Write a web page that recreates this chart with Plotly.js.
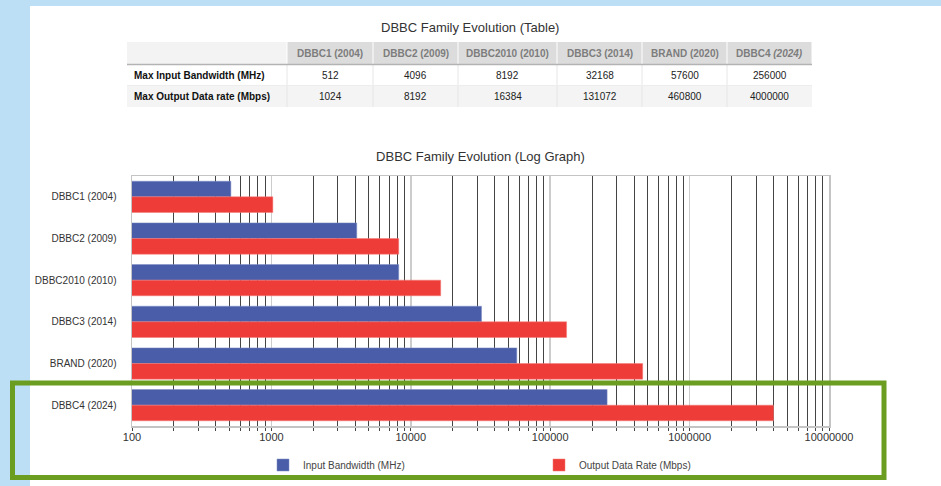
<!DOCTYPE html>
<html>
<head>
<meta charset="utf-8">
<script src="https://cdn.plot.ly/plotly-3.0.1.min.js"></script>
<style>html,body{margin:0;padding:0;background:#bfe0f5;}#chart{width:941px;height:486px;}</style>
</head>
<body>
<div id="chart"></div>
<script>
// ---- data ----
const categories = ['DBBC1 (2004)', 'DBBC2 (2009)', 'DBBC2010 (2010)', 'DBBC3 (2014)', 'BRAND (2020)', 'DBBC4 (2024)'];
const headerLabels = ['DBBC1 (2004)', 'DBBC2 (2009)', 'DBBC2010 (2010)', 'DBBC3 (2014)', 'BRAND (2020)', 'DBBC4 <i>(2024)</i>'];
const rowLabels = ['Max Input Bandwidth (MHz)', 'Max Output Data rate (Mbps)'];
const inputBandwidth = [512, 4096, 8192, 32168, 57600, 256000];
const outputRate = [1024, 8192, 16384, 131072, 460800, 4000000];
const seriesNames = ['Input Bandwidth (MHz)', 'Output Data Rate (Mbps)'];
const xTickVals = [100, 1000, 10000, 100000, 1000000, 10000000];
const xTickText = ['100', '1000', '10000', '100000', '1000000', '10000000'];
const tableTitle = 'DBBC Family Evolution (Table)';
const chartTitle = 'DBBC Family Evolution (Log Graph)';

// ---- helpers / styling ----
const W = 941, H = 486;
const px = v => v / W;
const py = v => 1 - v / H;
const FONT = 'Liberation Sans, Arial, sans-serif';
const BLUE = '#4a5da8';
const RED = '#ee3c39';

// table geometry (styling only)
const colEdges = [127, 287, 373, 458, 557, 642, 727, 812];
const rowEdges = [42, 64.5, 85.5, 107];   // header, row1, row2
const tableRows = [inputBandwidth, outputRate];

const shapes = [
  {type: 'rect', xref: 'paper', yref: 'paper', x0: px(30), x1: 1, y0: 0, y1: py(6),
   fillcolor: '#ffffff', line: {width: 0}, layer: 'below'}
];
const annotations = [{
  text: tableTitle, xref: 'paper', yref: 'paper',
  x: px(470), y: py(27), xanchor: 'center', yanchor: 'middle', showarrow: false,
  font: {family: FONT, size: 13, color: '#333333'}
}];

// header cells
for (let c = 0; c < colEdges.length - 1; c++) {
  shapes.push({type: 'rect', xref: 'paper', yref: 'paper',
    x0: px(colEdges[c] + (c ? 0.5 : 0)), x1: px(colEdges[c + 1] - 0.5),
    y0: py(rowEdges[1]), y1: py(rowEdges[0]),
    fillcolor: c === 0 ? '#f3f3f3' : '#dcdcdc', line: {width: 0}, layer: 'below'});
}
// body rows
for (let r = 0; r < 2; r++) {
  shapes.push({type: 'rect', xref: 'paper', yref: 'paper',
    x0: px(colEdges[0]), x1: px(colEdges[colEdges.length - 1]),
    y0: py(rowEdges[r + 2]), y1: py(rowEdges[r + 1]),
    fillcolor: r === 0 ? '#ffffff' : '#f4f4f4', line: {width: 0}, layer: 'below'});
}
// faint cell separators in the body
for (let c = 1; c < colEdges.length - 1; c++) {
  shapes.push({type: 'line', xref: 'paper', yref: 'paper',
    x0: px(colEdges[c]), x1: px(colEdges[c]), y0: py(rowEdges[3]), y1: py(rowEdges[1]),
    line: {color: '#e6e6e6', width: 1}, layer: 'below'});
}
shapes.push({type: 'line', xref: 'paper', yref: 'paper',
  x0: px(colEdges[0]), x1: px(colEdges[colEdges.length - 1]), y0: py(rowEdges[2]), y1: py(rowEdges[2]),
  line: {color: '#ededed', width: 1}, layer: 'below'});
// header bottom rule
shapes.push({type: 'line', xref: 'paper', yref: 'paper',
  x0: px(colEdges[0]), x1: px(colEdges[colEdges.length - 1]), y0: py(rowEdges[1]), y1: py(rowEdges[1]),
  line: {color: '#b3b3b3', width: 1.5}, layer: 'below'});

// header text
headerLabels.forEach((h, i) => {
  annotations.push({text: '<b>' + h + '</b>', xref: 'paper', yref: 'paper',
    x: px((colEdges[i + 1] + colEdges[i + 2]) / 2), y: py((rowEdges[0] + rowEdges[1]) / 2),
    xanchor: 'center', yanchor: 'middle', showarrow: false,
    font: {family: FONT, size: 10, color: '#7d7d7d'}});
});
// row labels + values
rowLabels.forEach((lab, r) => {
  const yc = py((rowEdges[r + 1] + rowEdges[r + 2]) / 2);
  annotations.push({text: '<b>' + lab + '</b>', xref: 'paper', yref: 'paper',
    x: px(colEdges[0] + 5), y: yc, xanchor: 'left', yanchor: 'middle', showarrow: false,
    font: {family: FONT, size: 10, color: '#111111'}});
  tableRows[r].forEach((v, i) => {
    annotations.push({text: String(v), xref: 'paper', yref: 'paper',
      x: px((colEdges[i + 1] + colEdges[i + 2]) / 2), y: yc,
      xanchor: 'center', yanchor: 'middle', showarrow: false,
      font: {family: FONT, size: 10, color: '#222222'}});
  });
});

// highlight box
shapes.push({type: 'rect', xref: 'paper', yref: 'paper', x0: px(12.5), x1: px(884), y0: py(477.5), y1: py(383),
  fillcolor: 'rgba(0,0,0,0)', line: {color: '#6b9e20', width: 5}, layer: 'above'});

const barIn = {
  type: 'bar', orientation: 'h', name: seriesNames[0],
  y: categories, x: inputBandwidth,
  marker: {color: BLUE, line: {color: '#7f8ec6', width: 0.5}},
  legend: 'legend', showlegend: true, hoverinfo: 'x+y'
};
const barOut = {
  type: 'bar', orientation: 'h', name: seriesNames[1],
  y: categories, x: outputRate,
  marker: {color: RED, line: {color: '#f27a77', width: 0.5}},
  legend: 'legend2', showlegend: true, hoverinfo: 'x+y'
};

const layout = {
  width: W, height: H,
  margin: {l: 0, r: 0, t: 0, b: 0, pad: 0},
  paper_bgcolor: '#bcdff5',
  plot_bgcolor: '#ffffff',
  showlegend: true,
  font: {family: FONT, size: 10, color: '#333333'},
  title: {
    text: chartTitle, x: 480.5 / W, xanchor: 'center', xref: 'container',
    y: py(156), yanchor: 'middle', yref: 'container',
    font: {family: FONT, size: 13, color: '#333333'}
  },
  barmode: 'group', bargap: 0.25, bargroupgap: 0,
  xaxis: {
    type: 'log', domain: [px(132), px(829)], range: [2, 7],
    tickvals: xTickVals, ticktext: xTickText,
    showgrid: true, gridcolor: '#cccccc', gridwidth: 1.5,
    showline: true, linecolor: '#c4c4c4', linewidth: 1.5, mirror: true,
    ticks: '', zeroline: false,
    tickfont: {family: FONT, size: 11, color: '#333333'},
    minor: {dtick: 'D1', showgrid: true, gridcolor: '#444444', gridwidth: 1,
            ticks: 'outside', ticklen: 3, tickcolor: '#444444', tickwidth: 1},
    fixedrange: true
  },
  yaxis: {
    type: 'category', domain: [py(426), py(176)], autorange: 'reversed',
    showgrid: false, showline: true, linecolor: '#c4c4c4', linewidth: 1.5, mirror: true,
    ticks: '', ticklabelstandoff: 12,
    tickfont: {family: FONT, size: 10, color: '#333333'},
    fixedrange: true
  },
  legend: {
    x: px(263), xanchor: 'left', y: py(465), yanchor: 'middle',
    orientation: 'h', bgcolor: 'rgba(0,0,0,0)',
    font: {family: FONT, size: 10, color: '#444444'}
  },
  legend2: {
    x: px(539), xanchor: 'left', y: py(465), yanchor: 'middle',
    orientation: 'h', bgcolor: 'rgba(0,0,0,0)',
    font: {family: FONT, size: 10, color: '#444444'}
  },
  annotations: annotations,
  shapes: shapes
};

Plotly.newPlot('chart', [barIn, barOut], layout, {displayModeBar: false, staticPlot: true});
</script>
</body>
</html>
